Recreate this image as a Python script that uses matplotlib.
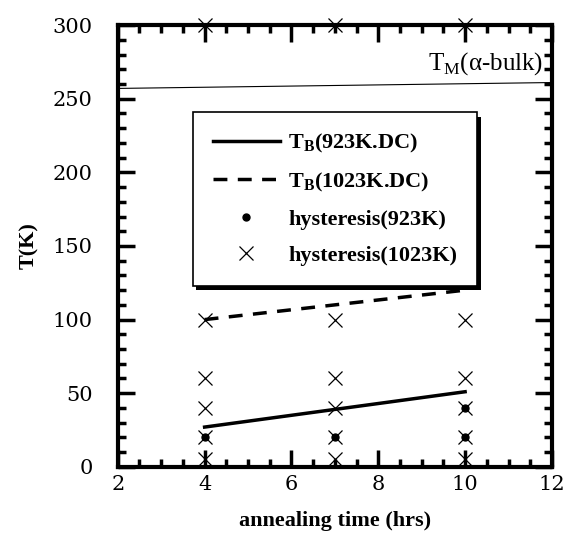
import matplotlib.pyplot as plt
from matplotlib.ticker import MultipleLocator
from matplotlib.patches import Rectangle

plt.rcParams['font.family'] = ['Liberation Serif', 'DejaVu Serif']
plt.rcParams['mathtext.fontset'] = 'custom'
plt.rcParams['mathtext.rm'] = 'Liberation Serif'
plt.rcParams['mathtext.bf'] = 'Liberation Serif:bold'

anneal = [4, 7, 10]
tb_923 = [27, 39, 51]
tb_1023 = [100, 110, 120]
hyst_923_x = [4, 7, 10, 10]
hyst_923_y = [20, 20, 20, 40]
hyst_1023_x = [4, 4, 4, 4, 4, 4, 7, 7, 7, 7, 7, 7, 10, 10, 10, 10, 10, 10]
hyst_1023_y = [5, 20, 40, 60, 100, 300, 5, 20, 40, 60, 100, 300, 5, 20, 40, 60, 100, 300]
tm_bulk = [257, 261]

fig = plt.figure(figsize=(5.69, 5.46), dpi=100)
ax = fig.add_axes([0.207, 0.145, 0.763, 0.809])

ax.plot(anneal, tb_923, 'k-', lw=2.5, label=r'T$_\mathregular{B}$(923K.DC)')
ax.plot(anneal, tb_1023, 'k--', lw=2.5, dashes=(4, 3), label=r'T$_\mathregular{B}$(1023K.DC)')
ax.plot(hyst_923_x, hyst_923_y, 'ko', ms=5, ls='none', label='hysteresis(923K)')
ax.plot(hyst_1023_x, hyst_1023_y, 'kx', ms=10, mew=0.9, ls='none',
        label='hysteresis(1023K)', clip_on=False)
ax.plot([2, 12], tm_bulk, 'k-', lw=0.8)
ax.text(11.8, 265, r'T$_\mathregular{M}$($\mathregular{\alpha}$-bulk)', ha='right', va='bottom', fontsize=18)

ax.set_xlim(2, 12)
ax.set_ylim(0, 300)
ax.xaxis.set_major_locator(MultipleLocator(2))
ax.xaxis.set_minor_locator(MultipleLocator(0.5))
ax.yaxis.set_major_locator(MultipleLocator(50))
ax.yaxis.set_minor_locator(MultipleLocator(10))
ax.tick_params(which='both', direction='in', top=True, right=True)
ax.tick_params(which='major', length=12, width=2.5)
ax.tick_params(which='minor', length=6, width=2.5)
ax.tick_params(axis='y', pad=18)
ax.tick_params(axis='x', pad=6)
for lab in ax.get_xticklabels() + ax.get_yticklabels():
    lab.set_fontfamily('DejaVu Serif')
    lab.set_fontsize(15)
for s in ax.spines.values():
    s.set_linewidth(3)

ax.set_xlabel('annealing time (hrs)', fontsize=16, fontweight='bold', labelpad=12)
ax.set_ylabel('T(K)', fontsize=16, fontweight='bold', labelpad=10)

leg = ax.legend(loc='upper left', bbox_to_anchor=(0.173, 0.803), fancybox=False,
                edgecolor='k', framealpha=1, handlelength=3.0, borderaxespad=0,
                prop={'weight': 'bold', 'size': 16}, borderpad=0.9, labelspacing=0.7,
                handletextpad=0.4)
leg.get_frame().set_linewidth(1.2)

# black drop shadow under the legend box
fig.canvas.draw()
bb = leg.get_window_extent().transformed(ax.transAxes.inverted())
ax.add_patch(Rectangle((bb.x0 + 0.008, bb.y0 - 0.01), bb.width, bb.height,
                       transform=ax.transAxes, facecolor='k', edgecolor='none', zorder=4.9))
leg.set_zorder(5)

fig.savefig('out.png', dpi=100)
